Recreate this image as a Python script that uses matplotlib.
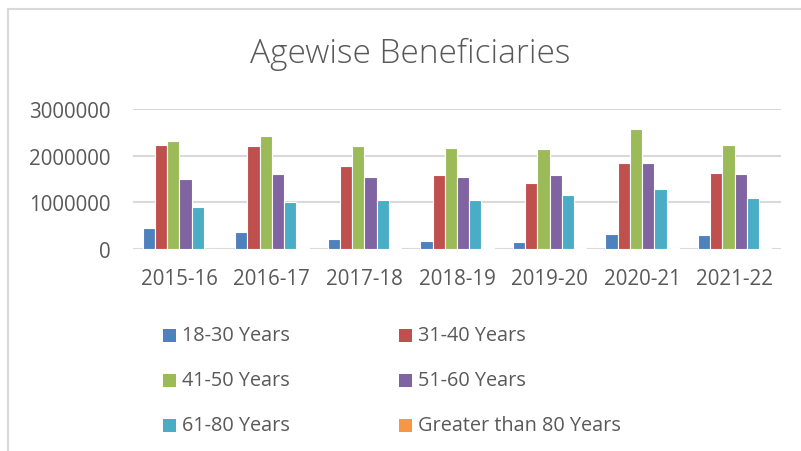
import matplotlib.pyplot as plt
import numpy as np
from matplotlib.patches import Rectangle

years = ["2015-16", "2016-17", "2017-18", "2018-19", "2019-20", "2020-21", "2021-22"]
age_groups = ["18-30 Years", "31-40 Years", "41-50 Years",
              "51-60 Years", "61-80 Years", "Greater than 80 Years"]
age_18_30 = [450000, 357000, 214000, 171000, 150000, 314000, 307000]
age_31_40 = [2230000, 2200000, 1780000, 1586000, 1420000, 1850000, 1620000]
age_41_50 = [2310000, 2415000, 2207000, 2157000, 2143000, 2570000, 2220000]
age_51_60 = [1500000, 1600000, 1543000, 1536000, 1586000, 1836000, 1600000]
age_61_80 = [893000, 1007000, 1050000, 1057000, 1150000, 1279000, 1086000]
age_80_up = [6000, 12000, 12000, 14000, 15000, 20000, 16000]
series = [age_18_30, age_31_40, age_41_50, age_51_60, age_61_80, age_80_up]

colors = ["#4F81BD", "#C0504D", "#9BBB59", "#8064A2", "#4BACC6", "#F79646"]
text_color = "#595959"
grid_color = "#D9D9D9"
plt.rcParams["font.family"] = ["Open Sans", "DejaVu Sans"]

W, H = 801, 452
fig = plt.figure(figsize=(W / 100, H / 100), dpi=100)
fig.patch.set_facecolor("white")

# chart border (only top/left visible in the crop)
fig.patches.append(Rectangle((8 / W, -0.1), 1.2, 1.1 - 10 / H, transform=fig.transFigure,
                             fill=False, edgecolor=grid_color, linewidth=1.5))

ax = fig.add_axes([133 / W, 1 - 250 / H, (781 - 133) / W, (250 - 110) / H])
x = np.arange(len(years))
bw = 0.132
for i, vals in enumerate(series):
    ax.bar(x + (i - 2.5) * bw, vals, width=bw, color=colors[i],
           edgecolor="white", linewidth=0.8, zorder=3)

ax.set_xlim(-0.5, len(years) - 0.5)
ax.set_ylim(0, 3000000)
ax.set_yticks([0, 1000000, 2000000, 3000000])
ax.set_yticklabels(["0", "1000000", "2000000", "3000000"])
ax.set_xticks(x)
ax.set_xticklabels(years)
ax.yaxis.grid(True, color=grid_color, linewidth=1.5, zorder=0)
ax.set_axisbelow(True)
for s in ax.spines.values():
    s.set_visible(False)
ax.tick_params(axis="both", length=0, labelsize=14.8, labelcolor=text_color)
ax.tick_params(axis="y", pad=16)
ax.tick_params(axis="x", pad=14)

fig.text(410 / W, 1 - 54 / H, "Agewise Beneficiaries", ha="center", va="center",
         fontsize=24, color=text_color, fontweight="light")

# legend, row-wise in two columns
for i, (label, c) in enumerate(zip(age_groups, colors)):
    row, col = i // 2, i % 2
    mx = 163 if col == 0 else 399
    my = 336 + row * 45
    fig.patches.append(Rectangle((mx / W, 1 - (my + 6.5) / H), 13 / W, 13 / H,
                                 transform=fig.transFigure, facecolor=c, edgecolor="none"))
    fig.text((mx + 19) / W, 1 - my / H, label, ha="left", va="center",
             fontsize=14.3, color=text_color)

fig.savefig("out.png", dpi=100)
